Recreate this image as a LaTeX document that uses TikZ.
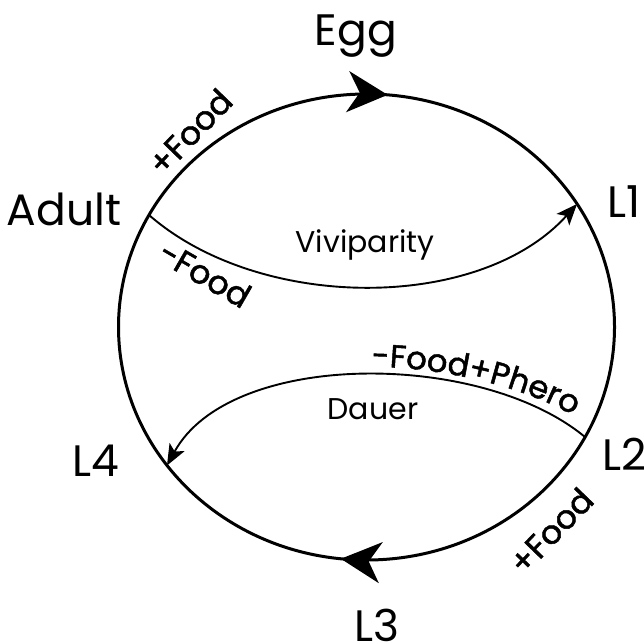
\documentclass[tikz,border=0pt]{standalone}
\usepackage{fontspec}
\setmainfont{Poppins}
\newfontfamily\condfont[FakeBold=1.5]{Poppins}
\usetikzlibrary{arrows.meta,decorations.markings,decorations.text}
\begin{document}
\begin{tikzpicture}[x=1pt,y=-1pt,
  stagelab/.style={font=\fontsize{44}{44}\selectfont, inner sep=0pt},
  routelab/.style={font=\fontsize{30}{30}\selectfont, inner sep=0pt},
  condlab/.style={font=\condfont\fontsize{33}{33}\selectfont, inner sep=0pt},
  cyclepath/.style={line width=3pt},
  branch/.style={line width=1.9pt, -{Stealth[length=21pt,width=17pt,inset=5pt]}},
  bigtip/.style={}
]
\useasboundingbox (0,0) rectangle (644,643);
\coordinate (ctr) at (366.5,327);
\coordinate (cA) at (149,215);
\coordinate (cL1) at (577,204);
\coordinate (cL2) at (585,437);
\coordinate (cL4) at (167,465.5);
\draw[cyclepath, postaction={decorate}, decoration={markings,
  mark=at position 0.236 with {\arrowreversed{Stealth[length=40pt,width=41pt,inset=12pt]}},
  mark=at position 0.733 with {\arrowreversed{Stealth[length=40pt,width=41pt,inset=12pt]}}}]
  (ctr) ellipse [x radius=248pt, y radius=233pt];
\draw[branch] (cA) .. controls (260,312) and (480,312) .. (cL1);
\draw[branch] (cL2) .. controls (480,350) and (230,350) .. (cL4);
\node[stagelab, anchor=base] (egg) at (356,45) {Egg};
\node[stagelab, anchor=base] (adult) at (64,225) {Adult};
\node[stagelab, anchor=base west] (l1) at (607,217) {L1};
\node[stagelab, anchor=base west] (l2) at (602,470) {L2};
\node[stagelab, anchor=base] (l3) at (377,641) {L3};
\node[stagelab, anchor=base] (l4) at (96,476) {L4};
\node[routelab, anchor=base] (vivi) at (365,252) {Viviparity};
\node[routelab, anchor=base] (dauer) at (373,419) {Dauer};
\node[condlab, rotate=46] (foodplus1) at (190,132) {+Food};
\node[condlab, rotate=-30] (foodminus) at (205,274) {-Food};
\node[condlab, rotate=46] (foodplus2) at (551,531) {+Food};
\path[decorate, decoration={text along path, text align=center,
  text={|\condfont\fontsize{32}{32}\selectfont|-Food+Phero}}]
  (352,367) .. controls (410,364) and (520,378) .. (590,426);
\end{tikzpicture}
\end{document}
